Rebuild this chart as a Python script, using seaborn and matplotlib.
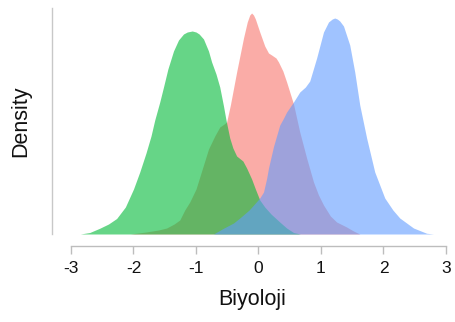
import numpy as np
import pandas as pd
import matplotlib
matplotlib.use("Agg")
import matplotlib.pyplot as plt
import seaborn as sns

# ---- data (x = Biyoloji score, y = density) ----
groups = ["A", "B", "C"]  # drawing order: red, green, blue

red_x = [-2.05, -1.8, -1.6, -1.47, -1.35, -1.26, -1.18, -1.1, -1.0, -0.9, -0.8, -0.7,
         -0.62, -0.55, -0.51, -0.45, -0.35, -0.24, -0.18, -0.14, -0.11, -0.08, -0.05,
         0.02, 0.1, 0.16, 0.21, 0.28, 0.32, 0.39, 0.45, 0.56, 0.66, 0.77, 0.88, 0.96,
         1.04, 1.15, 1.25, 1.41, 1.52, 1.62]
red_y = [0.0, 0.008, 0.016, 0.024, 0.040, 0.056, 0.096, 0.128, 0.180, 0.260, 0.340,
         0.392, 0.428, 0.440, 0.448, 0.516, 0.648, 0.784, 0.848, 0.876, 0.884, 0.876,
         0.860, 0.808, 0.752, 0.724, 0.716, 0.704, 0.688, 0.652, 0.608, 0.520, 0.408,
         0.304, 0.208, 0.156, 0.116, 0.072, 0.048, 0.028, 0.012, 0.0]

green_x = [-2.85, -2.7, -2.54, -2.4, -2.27, -2.13, -2.0, -1.9, -1.8, -1.72, -1.66,
           -1.58, -1.52, -1.45, -1.36, -1.28, -1.2, -1.14, -1.06, -1.0, -0.95, -0.88,
           -0.8, -0.75, -0.68, -0.62, -0.56, -0.52, -0.46, -0.41, -0.35, -0.25, -0.19,
           -0.11, -0.05, 0.02, 0.1, 0.2, 0.34, 0.45, 0.56, 0.67]
green_y = [0.0, 0.006, 0.023, 0.040, 0.062, 0.108, 0.180, 0.248, 0.324, 0.392, 0.456,
           0.528, 0.588, 0.660, 0.732, 0.776, 0.800, 0.808, 0.812, 0.808, 0.800, 0.780,
           0.732, 0.688, 0.640, 0.588, 0.512, 0.456, 0.384, 0.344, 0.312, 0.292, 0.264,
           0.220, 0.180, 0.136, 0.108, 0.080, 0.048, 0.024, 0.006, 0.0]

blue_x = [-0.72, -0.56, -0.4, -0.3, -0.15, -0.05, 0.02, 0.08, 0.13, 0.16, 0.24, 0.34,
          0.4, 0.45, 0.56, 0.66, 0.75, 0.82, 0.93, 1.04, 1.12, 1.18, 1.22, 1.26, 1.3,
          1.36, 1.46, 1.54, 1.62, 1.73, 1.86, 2.02, 2.15, 2.26, 2.48, 2.69, 2.8]
blue_y = [0.0, 0.023, 0.044, 0.064, 0.096, 0.124, 0.144, 0.168, 0.222, 0.264, 0.350,
          0.436, 0.463, 0.488, 0.528, 0.568, 0.588, 0.612, 0.704, 0.808, 0.848, 0.860,
          0.864, 0.860, 0.852, 0.832, 0.756, 0.648, 0.516, 0.384, 0.248, 0.144, 0.096,
          0.064, 0.024, 0.003, 0.0]

colors = ["#F8766D", "#00BA38", "#619CFF"]
x_ticks = [-3, -2, -1, 0, 1, 2, 3]
x_label = "Biyoloji"
y_label = "Density"

df = pd.concat([
    pd.DataFrame({"x": red_x, "density": red_y, "group": groups[0]}),
    pd.DataFrame({"x": green_x, "density": green_y, "group": groups[1]}),
    pd.DataFrame({"x": blue_x, "density": blue_y, "group": groups[2]}),
], ignore_index=True)

# ---- figure ----
sns.set_style("white")
plt.rcParams['font.family'] = ['Liberation Sans', 'DejaVu Sans']

W, H = 456, 322
fig = plt.figure(figsize=(W / 100, H / 100), dpi=100)
ax = fig.add_axes([52.25 / W, (H - 234) / H, 400 / W, 226 / H])

sns.lineplot(data=df, x="x", y="density", hue="group", hue_order=groups,
             palette=colors, linewidth=0, legend=False, ax=ax, sort=True)
for g, c in zip(groups, colors):
    sub = df[df["group"] == g]
    ax.fill_between(sub["x"], 0, sub["density"], color=c, alpha=0.6, linewidth=0)

ax.set_xlim(-3.3, 3.1)
ax.set_ylim(0, 0.904)
ax.set_yticks([])
ax.set_xticks(x_ticks)
ax.set_xticklabels([str(t) for t in x_ticks])

for s in ["top", "right"]:
    ax.spines[s].set_visible(False)
ax.spines["left"].set_color("#c8c8c8")
ax.spines["left"].set_linewidth(1)
ax.spines["bottom"].set_color("#bdbdbd")
ax.spines["bottom"].set_linewidth(1)
ax.spines["bottom"].set_position(("outward", 8.6))
ax.spines["bottom"].set_bounds(-3, 3)

ax.tick_params(axis="x", length=6, width=1, color="#bdbdbd", labelsize=12.5,
               pad=5, labelcolor="#111111", bottom=True)
ax.set_xlabel(x_label, fontsize=15.5, labelpad=9, color="#111111")
ax.set_ylabel(y_label, fontsize=15.5, labelpad=15, color="#111111")

fig.savefig("out.png", dpi=100)
